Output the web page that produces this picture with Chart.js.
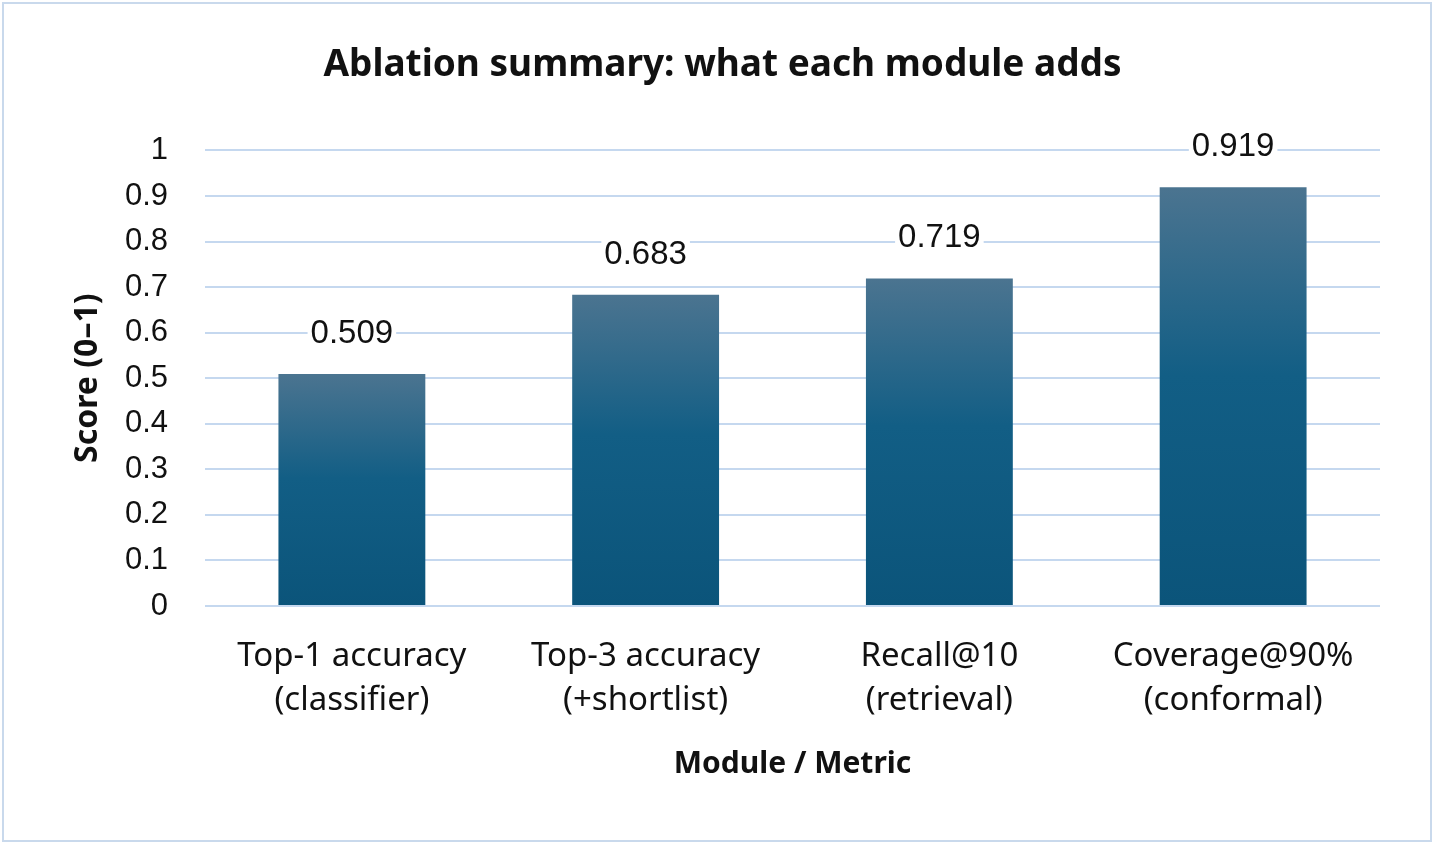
<!DOCTYPE html>
<html>
<head>
<meta charset="utf-8">
<title>Ablation summary</title>
<style>
  body {
    margin: 0;
    background: #fff;
  }
  #wrap {
    position: relative;
    width: 1434px;
    height: 844px;
  }
  #frame {
    position: absolute;
    left: 2px;
    top: 2px;
    width: 1430px;
    height: 840px;
    border: 2px solid #c9d9ec;
    box-sizing: border-box;
    pointer-events: none;
  }
  canvas {
    position: absolute;
    left: 0;
    top: 0;
  }
</style>
</head>
<body>
<div id="wrap">
  <canvas id="chart" width="1434" height="844"></canvas>
  <div id="frame"></div>
</div>
<script src="https://cdn.jsdelivr.net/npm/chart.js"></script>
<script>
  // dados do gráfico
  const categories = [
    ['Top-1 accuracy', '(classifier)'],
    ['Top-3 accuracy', '(+shortlist)'],
    ['Recall@10', '(retrieval)'],
    ['Coverage@90%', '(conformal)']
  ];
  const scores = [0.509, 0.683, 0.719, 0.919];
  const yTicks = [0, 0.1, 0.2, 0.3, 0.4, 0.5, 0.6, 0.7, 0.8, 0.9, 1];

  const labelFont = '"Noto Sans", "Liberation Sans", Arial, sans-serif';
  const numFont = '"Liberation Sans", Arial, sans-serif';

  // gradiente por barra (claro em cima, escuro em baixo)
  function barGradient(ctx) {
    const chart = ctx.chart;
    const area = chart.chartArea;
    if (!area || ctx.type !== 'data') return '#115e85';
    const y = chart.scales.y;
    const top = y.getPixelForValue(ctx.raw);
    const bottom = y.getPixelForValue(0);
    const g = chart.ctx.createLinearGradient(0, top, 0, bottom);
    g.addColorStop(0, '#4b7490');
    g.addColorStop(0.45, '#125e85');
    g.addColorStop(1, '#0b547a');
    return g;
  }

  // rótulos de valor acima das barras
  const valueLabels = {
    id: 'valueLabels',
    afterDatasetsDraw(chart) {
      const c = chart.ctx;
      const meta = chart.getDatasetMeta(0);
      c.save();
      c.font = '33px ' + numFont;
      c.textAlign = 'center';
      c.textBaseline = 'alphabetic';
      meta.data.forEach((bar, i) => {
        const txt = scores[i].toFixed(3);
        const w = c.measureText(txt).width;
        const yBase = bar.y - 31;
        c.fillStyle = '#fff';
        c.fillRect(bar.x - w / 2 - 3, yBase - 26, w + 6, 30);
        c.fillStyle = '#111';
        c.fillText(txt, bar.x, yBase);
      });
      c.restore();
    }
  };

  new Chart(document.getElementById('chart'), {
    type: 'bar',
    data: {
      labels: categories,
      datasets: [{
        data: scores,
        backgroundColor: barGradient,
        borderWidth: 0,
        categoryPercentage: 1,
        barPercentage: 0.5
      }]
    },
    options: {
      responsive: false,
      animation: false,
      devicePixelRatio: 1,
      layout: {
        padding: { left: 65, right: 54, top: 43, bottom: 58 }
      },
      plugins: {
        legend: { display: false },
        tooltip: { enabled: false },
        title: {
          display: true,
          text: 'Ablation summary: what each module adds',
          color: '#111',
          font: { family: labelFont, size: 37, weight: 'bold', lineHeight: 1.2 },
          padding: { top: 0, bottom: 63 }
        }
      },
      scales: {
        x: {
          grid: { display: false, drawTicks: false },
          border: { display: false },
          ticks: {
            color: '#111',
            padding: 28,
            maxRotation: 0,
            font: { family: labelFont, size: 33, lineHeight: 1.34 }
          },
          title: {
            display: true,
            text: 'Module / Metric',
            color: '#111',
            font: { family: labelFont, size: 30, weight: 'bold', lineHeight: 1.2 }
          },
          afterFit(scale) { scale.height = 180; }
        },
        y: {
          min: 0,
          max: 1,
          afterBuildTicks(scale) {
            scale.ticks = yTicks.map(v => ({ value: v }));
          },
          grid: { color: '#c5d8ef', lineWidth: 2, drawTicks: false },
          border: { display: false },
          ticks: {
            color: '#111',
            padding: 37,
            font: { family: numFont, size: 31 },
            callback: v => String(v)
          },
          title: {
            display: true,
            text: 'Score (0–1)',
            color: '#111',
            font: { family: labelFont, size: 32, weight: 'bold', lineHeight: 1.2 }
          },
          afterFit(scale) { scale.width = 140; }
        }
      }
    },
    plugins: [valueLabels]
  });
</script>
</body>
</html>
